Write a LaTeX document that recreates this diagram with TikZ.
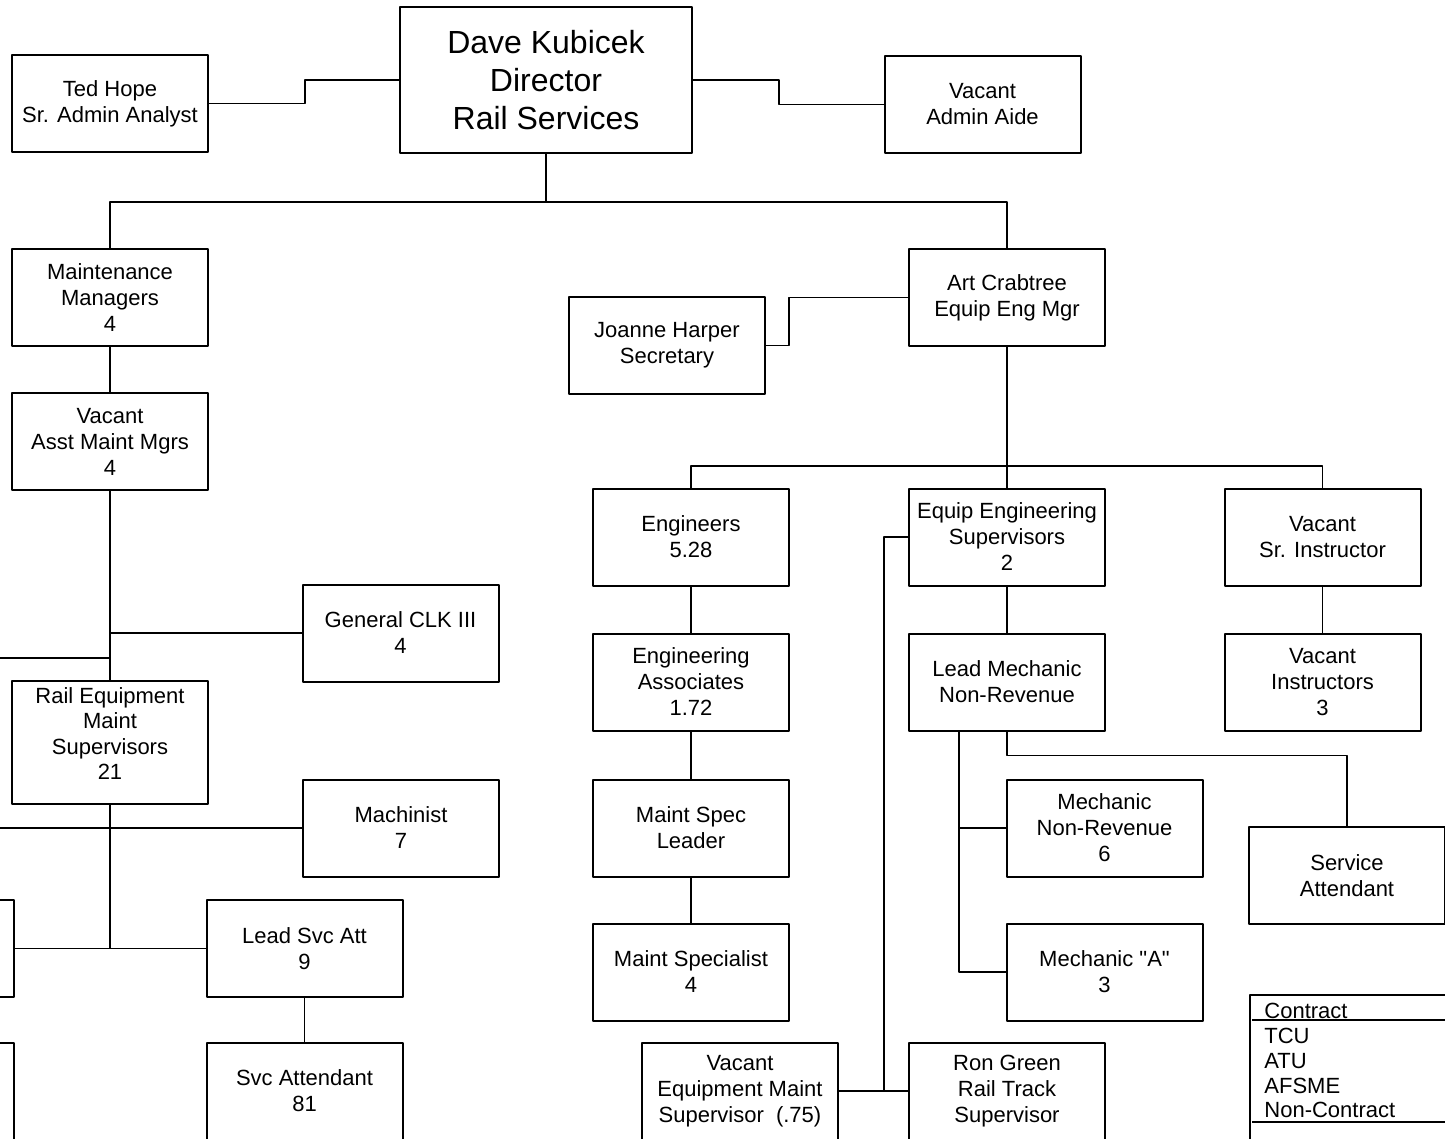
\documentclass[tikz,border=0pt]{standalone}
\usepackage{fontspec}
\setmainfont{Liberation Sans}[Ligatures=TeXOff]
\begin{document}
\begin{tikzpicture}[x=0.5pt,y=-0.5pt,line join=round,
	box/.style={draw,line width=1pt,minimum width=98pt,minimum height=48.5pt,inner sep=0pt,
		align=center,font=\fontsize{11}{13}\selectfont},
	link/.style={line width=0.6pt},
	keytext/.style={anchor=base west,inner sep=0pt,font=\fontsize{11}{12.5}\selectfont}]
	\useasboundingbox (0,0) rectangle (1445,1139);
	\clip (0,0) rectangle (1445,1139);
	% top
	\node[box,minimum width=146pt,minimum height=73pt,font=\fontsize{16}{19}\selectfont] (dave) at (546,80) {Dave Kubicek\\Director\\Rail Services};
	\node[box] (ted) at (110,103.5) {Ted Hope\\Sr. Admin Analyst};
	\node[box] (aide) at (982.5,104.5) {Vacant\\Admin Aide};
	% left column
	\node[box] (mmgr) at (110,297.5) {Maintenance\\Managers\\4};
	\node[box] (amgr) at (110,441.5) {Vacant\\Asst Maint Mgrs\\4};
	\node[box] (clk) at (400.5,633) {General CLK III\\4};
	\node[box,minimum height=61.5pt,text depth=9pt,font=\fontsize{11}{12.8}\selectfont] (rems) at (110,742.5) {Rail Equipment\\Maint\\Supervisors\\21};
	\node[box] (mach) at (401,828) {Machinist\\7};
	\node[box] (lsa) at (304.5,948.5) {Lead Svc Att\\9};
	\node[box] (svc) at (304.5,1091) {Svc Attendant\\81};
	\node[box] (stubA) at (-84,948.5) {};
	\node[box] (stubB) at (-84,1091) {};
	\coordinate (edgeA) at (0,658);
	\coordinate (edgeB) at (0,828);
	% right part
	\node[box] (art) at (1007,297.5) {Art Crabtree\\Equip Eng Mgr};
	\node[box] (joanne) at (667,345.5) {Joanne Harper\\Secretary};
	\node[box] (eng) at (691,537) {Engineers\\5.28};
	\node[box] (ees) at (1007,537) {Equip Engineering\\Supervisors\\2};
	\node[box] (sri) at (1322.5,537) {Vacant\\Sr. Instructor};
	\node[box] (eassoc) at (691,682) {Engineering\\Associates\\1.72};
	\node[box] (lmech) at (1007,682) {Lead Mechanic\\Non-Revenue};
	\node[box] (inst) at (1322.5,682) {Vacant\\Instructors\\3};
	\node[box] (msl) at (691,828) {Maint Spec\\Leader};
	\node[box] (mspec) at (691,972) {Maint Specialist\\4};
	\node[box] (mnr) at (1104.5,828) {Mechanic\\Non-Revenue\\6};
	\node[box] (mecha) at (1104.5,972) {Mechanic "A"\\3};
	\node[box] (svcatt) at (1347,875.5) {Service\\Attendant};
	\node[box] (vems) at (740,1091) {Vacant\\Equipment Maint\\Supervisor\ \ (.75)};
	\node[box] (ron) at (1007,1091) {Ron Green\\Rail Track\\Supervisor};
	% links
	\draw[link] (ted.east) -- ++(96,0) |- (dave.west);
	\draw[link] (dave.east) -- ++(86,0) |- (aide.west);
	\draw[link] (dave.south) -- ++(0,48) -| (mmgr.north);
	\draw[link] (dave.south) -- ++(0,48) -| (art.north);
	\draw[link] (mmgr) -- (amgr);
	\draw[link] (amgr) -- (rems);
	\draw[link] (amgr.south |- clk.west) -- (clk.west);
	\draw[link] (edgeA) -- (amgr.south |- edgeA);
	\draw[link] (edgeB) -- (mach.west);
	\draw[link] (rems.south) -- (rems.south |- lsa.west);
	\draw[link] (stubA.east) -- (lsa.west);
	\draw[link] (lsa) -- (svc);
	\draw[link] (joanne.east) -- ++(23,0) |- (art.west);
	\draw[link] (art.south) -- ++(0,119) coordinate (artsplit);
	\draw[link] (artsplit) -| (eng.north);
	\draw[link] (artsplit) -- (ees.north);
	\draw[link] (artsplit) -| (sri.north);
	\draw[link] (eng) -- (eassoc) -- (msl) -- (mspec);
	\draw[link] (ees) -- (lmech);
	\draw[link] (sri) -- (inst);
	\draw[link] ([xshift=-24pt]lmech.south) |- (mnr.west);
	\draw[link] ([xshift=-24pt]lmech.south) |- (mecha.west);
	\draw[link] (lmech.south) -- ++(0,24) -| (svcatt.north);
	\draw[link] (ees.west) -- ++(-24,0) |- (ron.west);
	\draw[link] (vems.east) -- (ron.west);
	% key
	\draw[line width=1pt] (1250,995) rectangle (1520,1200);
	\draw[link] (1252,1020) -- (1520,1020);
	\draw[link] (1252,1122) -- (1520,1122);
	\foreach \t/\y [count=\i] in {Contract/1018,TCU/1043,ATU/1068,AFSME/1093,Non-Contract/1117}
		\node[keytext] (key\i) at (1264,\y) {\t};
\end{tikzpicture}
\end{document}
